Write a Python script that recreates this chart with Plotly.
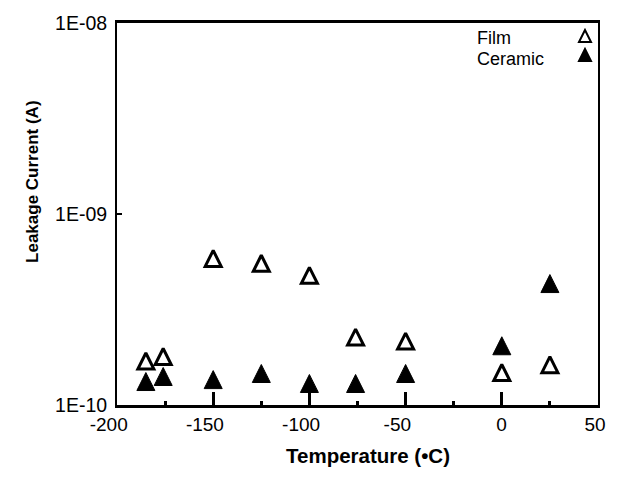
import plotly.graph_objects as go

# ---- data ----
temps = [-185, -176, -150, -125, -100, -76, -50, 0, 25]
film_current = [1.62e-10, 1.71e-10, 5.58e-10, 5.26e-10, 4.55e-10, 2.16e-10, 2.06e-10, 1.41e-10, 1.55e-10]
ceramic_current = [1.28e-10, 1.36e-10, 1.31e-10, 1.41e-10, 1.25e-10, 1.25e-10, 1.41e-10, 1.97e-10, 4.17e-10]

x_tick_vals = [-200, -150, -100, -50, 0, 50]
x_tick_labels = ["-200\u00a0\u00a0", "-150\u00a0\u00a0", "-100\u00a0\u00a0", "-50\u00a0\u00a0", "\u00a00", "50"]
x_minor_vals = [-175, -125, -75, -25, 25]
y_tick_vals = [1e-10, 1e-9, 1e-8]
y_tick_labels = ["1E-10", "1E-09", "1E-08"]
series_names = ["Film", "Ceramic"]

# ---- layout constants (page body has an 8px margin) ----
W, H = 611, 475
M = dict(l=109, r=21, t=15, b=78, autoexpand=False)
plot_h = H - M["t"] - M["b"]
px_per_decade = plot_h / 2.0
MS = 18  # marker size (arrow-up: apex at point, base MS below)
shift = (2 * MS / 3) / px_per_decade  # move centroid onto the data value

SANS = "Liberation Sans, Arial, Helvetica, sans-serif"

fig = go.Figure()
# invisible trace so the primary (visible) y axis is drawn
fig.add_trace(go.Scatter(
    x=temps, y=film_current, mode="markers", yaxis="y", showlegend=False,
    hoverinfo="skip", marker=dict(opacity=0),
))
fig.add_trace(go.Scatter(
    x=temps, y=ceramic_current, mode="markers", yaxis="y2", name="",
    legendrank=2,
    marker=dict(symbol="arrow-up", size=MS, color="black", line=dict(color="black", width=1)),
))
fig.add_trace(go.Scatter(
    x=temps, y=film_current, mode="markers", yaxis="y2", name="",
    legendrank=1,
    marker=dict(symbol="arrow-up", size=MS - 2, color="white", line=dict(color="black", width=3)),
))

fig.update_layout(
    width=W, height=H, margin=M,
    paper_bgcolor="white", plot_bgcolor="white",
    showlegend=True,
    legend=dict(x=0.9314, y=1.0196, xanchor="left", yanchor="top",
                font=dict(size=12, family=SANS), itemsizing="constant",
                bgcolor="rgba(0,0,0,0)", borderwidth=0),
    xaxis=dict(range=[-200, 50], tickmode="array", tickvals=x_tick_vals, ticktext=x_tick_labels,
               ticks="inside", ticklen=13, tickwidth=2.5, tickcolor="black",
               minor=dict(tickmode="array", tickvals=x_minor_vals, ticks="inside", ticklen=4,
                          tickwidth=2.5, tickcolor="black"),
               showline=True, linewidth=2.5, linecolor="black", mirror=True,
               showgrid=False, zeroline=False, ticklabelshift=-3,
               tickfont=dict(family=SANS, size=19, color="black")),
    yaxis=dict(type="log", range=[-10, -8], tickmode="array", tickvals=y_tick_vals, ticktext=y_tick_labels,
               ticks="inside", ticklen=5, tickwidth=2, tickcolor="black",
               showline=True, linewidth=2, linecolor="black", mirror=True,
               showgrid=False, zeroline=False, ticklabelstandoff=4,
               tickfont=dict(family=SANS, size=19.5, color="black")),
    yaxis2=dict(type="log", range=[-10 - shift, -8 - shift], overlaying="y", visible=False),
    annotations=[
        dict(text="Temperature (•C)", xref="paper", yref="paper", x=0.5208, y=-0.131,
             xanchor="center", yanchor="middle", showarrow=False,
             font=dict(family=SANS, size=20.5, color="black", weight="bold")),
        dict(text="Leakage Current (A)", xref="paper", yref="paper", x=-0.1746, y=0.584,
             xanchor="center", yanchor="middle", showarrow=False, textangle=-90,
             font=dict(family=SANS, size=17, color="black", weight="bold")),
        dict(text=series_names[0], xref="paper", yref="paper", x=0.7443, y=0.9614,
             xanchor="left", yanchor="middle", showarrow=False,
             font=dict(family=SANS, size=18, color="black")),
        dict(text=series_names[1], xref="paper", yref="paper", x=0.7443, y=0.9064,
             xanchor="left", yanchor="middle", showarrow=False,
             font=dict(family=SANS, size=18, color="black")),
    ],
)

fig.write_html("out.html")
